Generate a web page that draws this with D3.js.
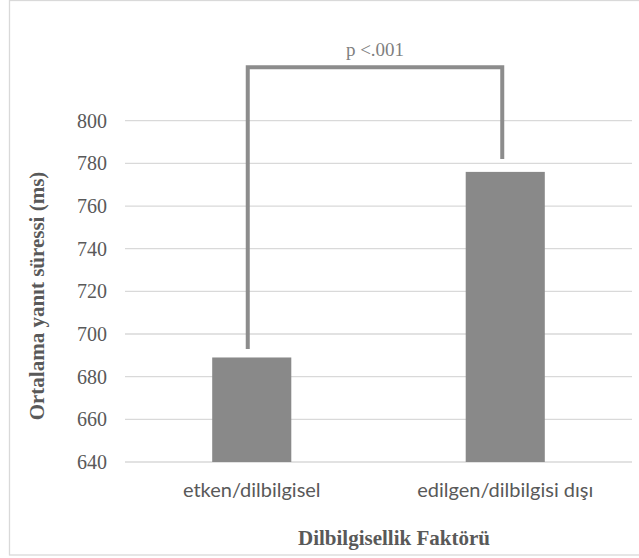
<!DOCTYPE html>
<html><head><meta charset="utf-8">
<script src="https://cdn.jsdelivr.net/npm/d3@7"></script>
<style>body{margin:0;background:#fff}svg{display:block}</style>
</head><body>
<svg id="c" width="639" height="558"></svg>
<script>
const categories = ["etken/dilbilgisel", "edilgen/dilbilgisi dışı"];
const values = [689, 776];
const yTicks = [640, 660, 680, 700, 720, 740, 760, 780, 800];
const bracketEnds = [693, 782];
const bracketTop = 825;
const sigLabel = "p <.001";
const yTitle = "Ortalama yanıt süressi (ms)";
const xTitle = "Dilbilgisellik Faktörü";

const svg = d3.select("#c");
const x = d3.scaleBand().domain(categories).range([125, 632]).paddingInner(0.688).paddingOuter(0.344);
const y = d3.scaleLinear().domain([640, 800]).range([462, 120.7]);

svg.append("rect").attr("x", 9.5).attr("y", 0.5).attr("width", 640).attr("height", 554.5)
  .attr("fill", "#fff").attr("stroke", "#d9d9d9").attr("stroke-width", 1.3);

// gridlines
svg.append("g").selectAll("line").data(yTicks).join("line")
  .attr("x1", 125).attr("x2", 632).attr("y1", d => y(d)).attr("y2", d => y(d))
  .attr("stroke", "#d9d9d9").attr("stroke-width", 1.3);

// y axis labels
const ya = svg.append("g").attr("transform", "translate(107,0)")
  .call(d3.axisLeft(y).tickValues(yTicks).tickSize(0).tickPadding(0).tickFormat(d3.format("d")));
ya.select(".domain").remove();
ya.selectAll("text").attr("font-family", "Liberation Serif, Times New Roman, serif")
  .attr("font-size", 20).attr("fill", "#595959");

// bars
svg.append("g").selectAll("rect").data(values).join("rect")
  .attr("x", (d, i) => x(categories[i])).attr("width", x.bandwidth())
  .attr("y", d => y(d)).attr("height", d => y(640) - y(d)).attr("fill", "#898989");

// x axis labels
const xa = svg.append("g").attr("transform", "translate(0,483)")
  .call(d3.axisBottom(x).tickSize(0).tickPadding(0));
xa.select(".domain").remove();
xa.selectAll("text").attr("font-family", "Lato, Carlito, Calibri, sans-serif")
  .attr("font-size", 20).attr("fill", "#595959");

// bracket
const cx = categories.map(c => x(c) + x.bandwidth() / 2 - 4);
cx[1] = x(categories[1]) + x.bandwidth() / 2 - 3;
const path = d3.path();
path.moveTo(cx[0], y(bracketEnds[0]));
path.lineTo(cx[0], y(bracketTop));
path.lineTo(cx[1], y(bracketTop));
path.lineTo(cx[1], y(bracketEnds[1]));
svg.append("path").attr("d", path.toString()).attr("fill", "none")
  .attr("stroke", "#8c8c8c").attr("stroke-width", 4).attr("stroke-linejoin", "miter");

svg.append("text").attr("x", (cx[0] + cx[1]) / 2).attr("y", 56).attr("text-anchor", "middle")
  .attr("font-family", "Liberation Serif, Times New Roman, serif").attr("font-size", 19)
  .attr("fill", "#7f7f7f").text(sigLabel);

svg.append("text").attr("transform", "translate(44,296) rotate(-90)").attr("text-anchor", "middle")
  .attr("font-family", "Liberation Serif, Times New Roman, serif").attr("font-size", 21)
  .attr("font-weight", "bold").attr("fill", "#595959").text(yTitle);

svg.append("text").attr("x", 394).attr("y", 545).attr("text-anchor", "middle")
  .attr("font-family", "Liberation Serif, Times New Roman, serif").attr("font-size", 21)
  .attr("font-weight", "bold").attr("fill", "#595959").text(xTitle);
</script>
</body></html>
